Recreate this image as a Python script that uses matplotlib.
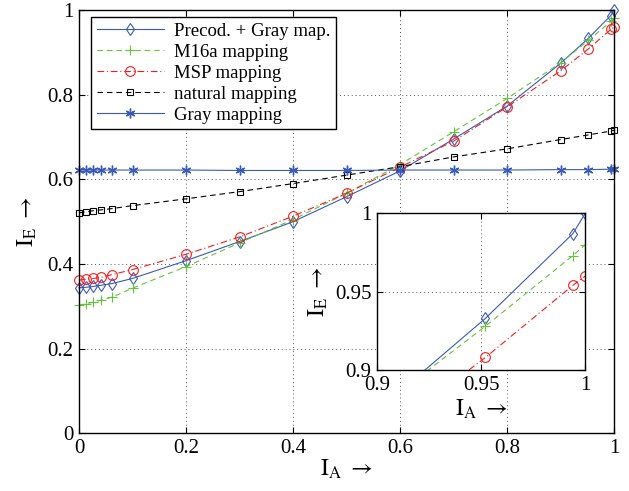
import matplotlib
matplotlib.use("Agg")
import matplotlib.pyplot as plt
import numpy as np

plt.rcParams['font.family'] = ['Liberation Serif', 'DejaVu Serif']
plt.rcParams['mathtext.fontset'] = 'stix'

# data
x_vals = [0, 0.0125, 0.027, 0.042, 0.062, 0.1, 0.2, 0.3, 0.4, 0.5, 0.6, 0.7, 0.8, 0.9, 0.952, 0.994, 1.0]
precod_gray = [0.344, 0.345, 0.347, 0.350, 0.354, 0.366, 0.408, 0.453, 0.500, 0.559, 0.620, 0.695, 0.773, 0.874, 0.933, 0.987, 1.000]
m16a = [0.303, 0.306, 0.310, 0.315, 0.322, 0.343, 0.394, 0.450, 0.505, 0.567, 0.635, 0.712, 0.791, 0.875, 0.928, 0.973, 0.980]
msp = [0.362, 0.364, 0.366, 0.369, 0.375, 0.387, 0.423, 0.464, 0.513, 0.567, 0.629, 0.690, 0.771, 0.856, 0.908, 0.954, 0.960]
natural = [0.521, 0.523, 0.526, 0.528, 0.531, 0.538, 0.554, 0.571, 0.590, 0.610, 0.630, 0.653, 0.672, 0.694, 0.705, 0.714, 0.716]
gray = [0.622, 0.622, 0.622, 0.622, 0.622, 0.622, 0.622, 0.621, 0.621, 0.621, 0.622, 0.622, 0.622, 0.623, 0.623, 0.624, 0.624]

labels = ["Precod. + Gray map.", "M16a mapping", "MSP mapping", "natural mapping", "Gray mapping"]
ticks_main = [0, 0.2, 0.4, 0.6, 0.8, 1.0]
ticklabels_main = ["0", "0.2", "0.4", "0.6", "0.8", "1"]
ticks_inset = [0.9, 0.95, 1.0]
ticklabels_inset = ["0.9", "0.95", "1"]

BLUE = '#3a5bb5'
GREEN = '#66c23a'
RED = '#f02020'
BLACK = '#000000'

styles = [
    dict(color=BLUE, ls='-', marker='d', mfc='none', ms=6.5, mew=0.8, lw=0.8),
    dict(color=GREEN, ls=(0, (5, 3.5)), marker='+', ms=7, mew=0.8, lw=0.8),
    dict(color=RED, ls=(0, (6, 2.5, 1, 2.5)), marker='o', mfc='none', ms=7, mew=0.8, lw=0.8),
    dict(color=BLACK, ls=(0, (5, 3.5)), marker='s', mfc='none', ms=5, mew=0.8, lw=0.8),
    dict(color=BLUE, ls='-', marker=(6, 2, 0), ms=7, mew=1.0, lw=0.8),
]
series = [precod_gray, m16a, msp, natural, gray]

fig = plt.figure(figsize=(6.29, 4.91), dpi=100)
ax = fig.add_axes([79/629, 1-433.4/491, (614-79)/629, (433.4-10)/491])

for s, st, lab in zip(series, styles, labels):
    ax.plot(x_vals, s, label=lab, clip_on=False, **st)

ax.set_xlim(0, 1)
ax.set_ylim(0, 1)
ax.set_xticks(ticks_main)
ax.set_xticklabels(ticklabels_main)
ax.set_yticks(ticks_main)
ax.set_yticklabels(ticklabels_main)
ax.tick_params(direction='in', top=True, right=True, labelsize=15, length=4, width=0.8, pad=4)
ax.grid(True, ls=(0, (1, 3)), color='#555555', lw=0.7)
for sp in ax.spines.values():
    sp.set_linewidth(1.0)
ax.set_xlabel(r'$\mathrm{I}_{\mathrm{A}}\ \rightarrow$', fontsize=17, labelpad=0)
ax.set_ylabel(r'$\mathrm{I}_{\mathrm{E}}\ \rightarrow$', fontsize=17, labelpad=6)

leg = ax.legend(loc='upper left', bbox_to_anchor=(12/535, 1-7.3/423.4), fontsize=13.5, frameon=True,
                fancybox=False, edgecolor='black', framealpha=1, borderpad=0.3,
                labelspacing=0.2, handlelength=3.6, handletextpad=0.5, borderaxespad=0)
leg.get_frame().set_linewidth(1.0)

# inset
axi = fig.add_axes([377.3/629, 1-370/491, 208/629, 156.7/491])
for s, st in zip(series, styles):
    axi.plot(x_vals, s, **st)
axi.set_xlim(0.9, 1.0)
axi.set_ylim(0.9, 1.0)
axi.set_xticks(ticks_inset)
axi.set_xticklabels(ticklabels_inset)
axi.set_yticks(ticks_inset)
axi.set_yticklabels(ticklabels_inset)
axi.tick_params(direction='in', top=True, right=True, labelsize=15, length=4, width=0.8, pad=4)
axi.grid(True, ls=(0, (1, 3)), color='#555555', lw=0.7)
for sp in axi.spines.values():
    sp.set_linewidth(1.0)
axi.set_xlabel(r'$\mathrm{I}_{\mathrm{A}}\ \rightarrow$', fontsize=17, labelpad=2)
axi.set_ylabel(r'$\mathrm{I}_{\mathrm{E}}\ \rightarrow$', fontsize=17, labelpad=4)

fig.savefig('out.png', dpi=100)
